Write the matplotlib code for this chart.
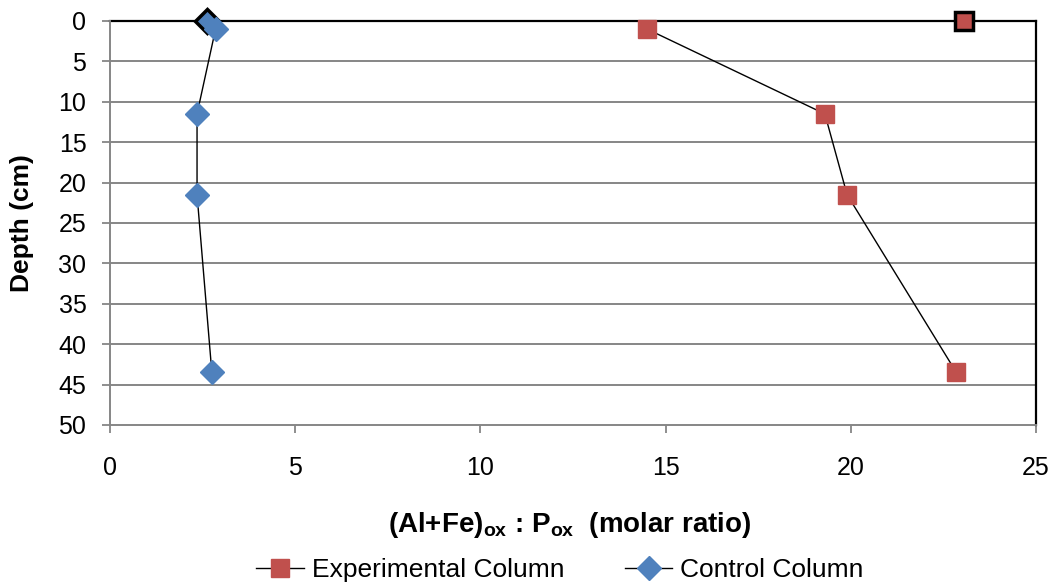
import matplotlib
matplotlib.use("Agg")
import matplotlib.pyplot as plt

plt.rcParams['font.family'] = ['Liberation Sans', 'DejaVu Sans']
plt.rcParams['mathtext.fontset'] = 'custom'
plt.rcParams['mathtext.rm'] = 'Liberation Sans:bold'
plt.rcParams['mathtext.bf'] = 'Liberation Sans:bold'

# Data
exp_ratio = [14.5, 19.3, 19.9, 22.85]
exp_depth = [1, 11.5, 21.5, 43.5]
ctrl_ratio = [2.85, 2.35, 2.35, 2.75]
ctrl_depth = [1, 11.5, 21.5, 43.5]
exp_initial = (23.05, 0)
ctrl_initial = (2.62, 0)

x_ticks = [0, 5, 10, 15, 20, 25]
y_ticks = [0, 5, 10, 15, 20, 25, 30, 35, 40, 45, 50]

red = '#C0504D'
blue = '#4F81BD'
grid = '#868686'

W, H = 1052, 584
fig = plt.figure(figsize=(W / 100, H / 100), dpi=100)
ax = fig.add_axes([110 / W, 1 - 425 / H, 926 / W, 404 / H])

for y in y_ticks[1:-1]:
    ax.axhline(y, color=grid, lw=1.4, zorder=1)

# initial points (black edged)
ax.plot([ctrl_initial[0]], [ctrl_initial[1]], marker='D', ms=12, mfc=blue, mec='black', mew=2.5,
        ls='none', zorder=3, clip_on=False)
ax.plot([exp_initial[0]], [exp_initial[1]], marker='s', ms=13, mfc=red, mec='black', mew=2.5,
        ls='none', zorder=3, clip_on=False)

ax.plot(exp_ratio, exp_depth, color='black', lw=1, marker='s', ms=13, mfc=red, mec=red,
        label='Experimental Column', zorder=4, clip_on=False)
ax.plot(ctrl_ratio, ctrl_depth, color='black', lw=1, marker='D', ms=12, mfc=blue, mec=blue,
        label='Control Column', zorder=4, clip_on=False)

ax.set_xlim(0, 25)
ax.set_ylim(50, 0)
ax.set_xticks(x_ticks)
ax.set_yticks(y_ticks)

for s in ['left', 'bottom']:
    ax.spines[s].set_color(grid)
    ax.spines[s].set_linewidth(1.4)
for s in ['top', 'right']:
    ax.spines[s].set_color('black')
    ax.spines[s].set_linewidth(1.6)
ax.spines['top'].set_zorder(2)

ax.tick_params(axis='both', direction='out', length=6, width=1.3, color=grid,
               labelsize=18, labelcolor='black')
ax.tick_params(axis='x', pad=16)
ax.tick_params(axis='y', pad=11)

fig.text(22 / W, 1 - 223 / H, 'Depth (cm)', rotation=90, fontsize=19, fontweight='bold',
         ha='center', va='center')
fig.text(570 / W, 1 - 532 / H, r'(Al+Fe)$_{\mathbf{ox}}$ : P$_{\mathbf{ox}}$  (molar ratio)',
         fontsize=20, fontweight='bold', ha='center', va='baseline')

leg = fig.legend(loc='center', bbox_to_anchor=(560 / W, 1 - 570 / H), ncol=2, frameon=False,
                 fontsize=19, handlelength=1.8, columnspacing=2.3, handletextpad=0.3,
                 borderpad=0, borderaxespad=0)

fig.savefig('out.png', dpi=100)
